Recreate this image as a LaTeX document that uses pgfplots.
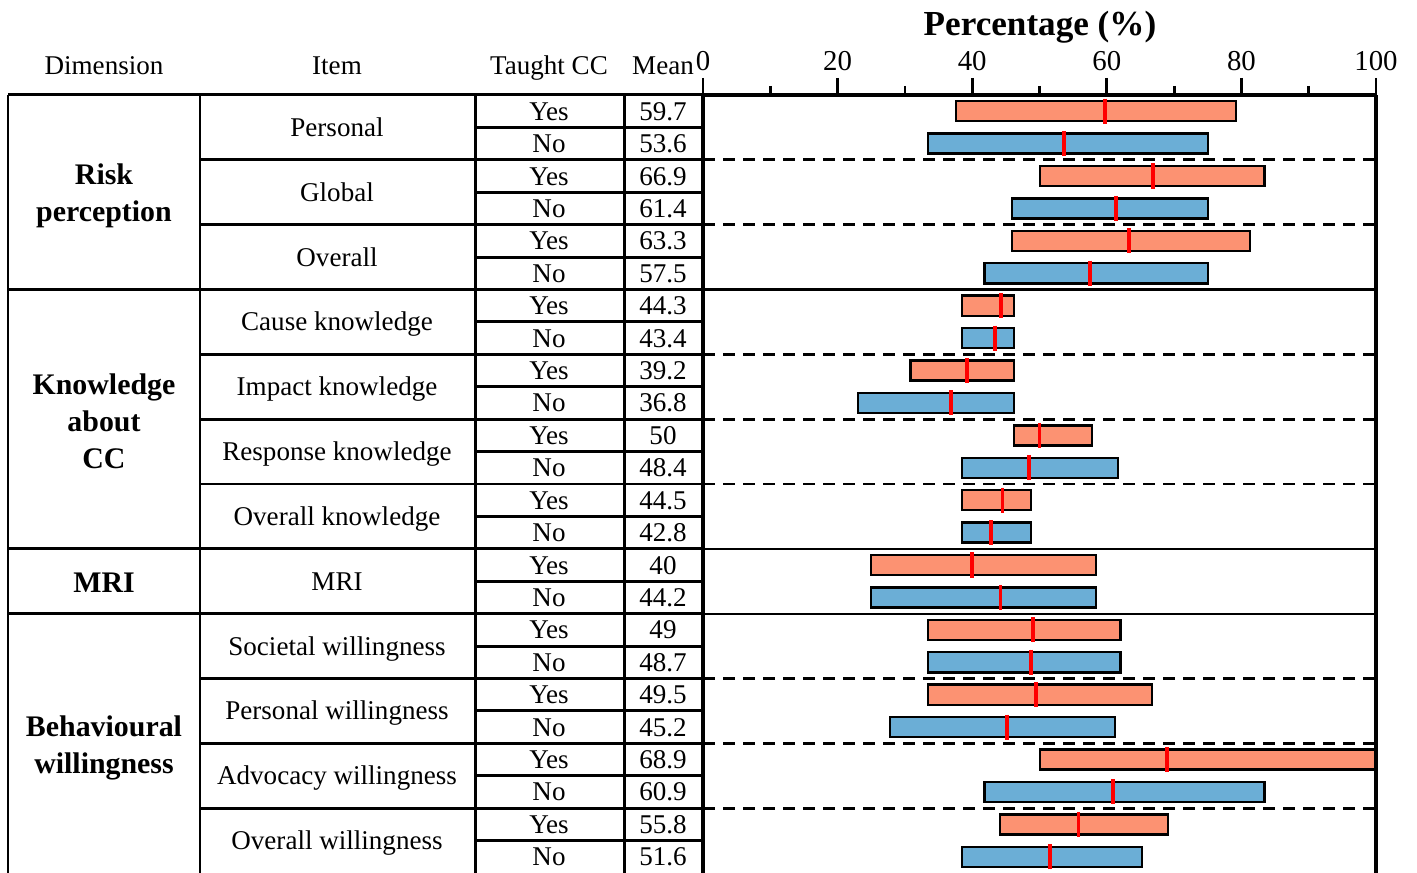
\documentclass[border=0pt]{standalone}
\usepackage{pgfplots}
\pgfplotsset{compat=1.18}
\usepgfplotslibrary{statistics}
\usepackage{fontspec}
\setmainfont{Liberation Serif}
\definecolor{yesc}{HTML}{FC9272}
\definecolor{noc}{HTML}{6BAED6}
\newcommand\bx[5]{\addplot[draw=black, line width=0.7pt, fill=#5, boxplot prepared={draw position=#1, lower whisker=#2, lower quartile=#2, median=#3, upper quartile=#4, upper whisker=#4}] coordinates {};}
\newcommand\tf{\fontsize{7.7}{9}\selectfont}
\begin{document}
\begin{tikzpicture}
\useasboundingbox (0,0) rectangle (141.7mm,-87.3mm);
\begin{axis}[
 at={(70.3mm,-9.5mm)}, anchor=north west,
 scale only axis, width=67.3mm, height=77.8mm,
 xmin=0, xmax=100, ymin=0.5, ymax=24.5, y dir=reverse,
 axis x line*=top, axis y line=none,
 xtick={0,20,...,100}, minor xtick={10,30,...,90},
 tick align=outside, major tick length=1.7mm, minor tick length=0.9mm,
 every tick/.style={black, line width=0.8pt},
 axis line style={line width=0.9pt},
 xticklabel style={font=\fontsize{8.2}{9}\selectfont, yshift=-0.5mm},
 /pgf/number format/assume math mode=true,
 clip=false,
 boxplot/draw direction=x,
 boxplot/box extend=0.62,
 boxplot/whisker extend=0,
 boxplot/every median/.style={red, line width=1.1pt, shorten <=-0.25mm, shorten >=-0.25mm},
]
\pgfplotsinvokeforeach{2.5,4.5,8.5,10.5,12.5,18.5,20.5,22.5}{\draw[line width=0.8pt, dash pattern=on 1.2mm off 0.8mm] (axis cs:0,#1) -- (axis cs:100,#1);}
\pgfplotsinvokeforeach{6.5,14.5,16.5}{\draw[line width=0.6pt] (axis cs:0,#1) -- (axis cs:100,#1);}
\bx{1}{37.6}{59.7}{79.2}{yesc}
\bx{2}{33.4}{53.6}{75.0}{noc}
\bx{3}{50.1}{66.9}{83.4}{yesc}
\bx{4}{45.9}{61.4}{75.0}{noc}
\bx{5}{45.9}{63.3}{81.3}{yesc}
\bx{6}{41.8}{57.5}{75.0}{noc}
\bx{7}{38.5}{44.3}{46.2}{yesc}
\bx{8}{38.5}{43.4}{46.2}{noc}
\bx{9}{30.8}{39.2}{46.2}{yesc}
\bx{10}{23.0}{36.8}{46.2}{noc}
\bx{11}{46.2}{50.0}{57.8}{yesc}
\bx{12}{38.5}{48.4}{61.7}{noc}
\bx{13}{38.5}{44.5}{48.7}{yesc}
\bx{14}{38.5}{42.8}{48.7}{noc}
\bx{15}{25.0}{40.0}{58.4}{yesc}
\bx{16}{25.0}{44.2}{58.4}{noc}
\bx{17}{33.4}{49.0}{62.0}{yesc}
\bx{18}{33.4}{48.7}{62.0}{noc}
\bx{19}{33.4}{49.5}{66.7}{yesc}
\bx{20}{27.8}{45.2}{61.2}{noc}
\bx{21}{50.1}{68.9}{100}{yesc}
\bx{22}{41.8}{60.9}{83.4}{noc}
\bx{23}{44.1}{55.8}{69.1}{yesc}
\bx{24}{38.5}{51.6}{65.2}{noc}
\draw[line width=0.9pt] (axis cs:0,0.5) -- (axis cs:0,24.5);
\draw[line width=0.9pt] (axis cs:100,0.5) -- (axis cs:100,24.5);
\end{axis}
\begin{scope}[x=0.1mm,y=-0.1mm, line width=0.85pt, every node/.style={font=\tf, inner sep=0pt}]
\draw (8,95) -- (703,95);
\foreach \x in {8,200,475,624} \draw (\x,95) -- (\x,873);
\foreach \k in {1,...,23} \draw (475,{95+\k*32.417}) -- (703,{95+\k*32.417});
\foreach \k in {2,4,...,22} \draw (200,{95+\k*32.417}) -- (475,{95+\k*32.417});
\foreach \k in {6,14,16} \draw (8,{95+\k*32.417}) -- (200,{95+\k*32.417});
\node[anchor=base] at (104,75) {Dimension};
\node[anchor=base] at (337,75) {Item};
\node[anchor=base] at (549,75) {Taught CC};
\node[anchor=base] at (663,75) {Mean};
\node[font=\bfseries\fontsize{10}{12}\selectfont] at (1040,27) {Percentage (\%)};
\foreach \i in {1,3,...,23} \node[anchor=base] at (549,{95+(\i-0.5)*32.417+9}) {Yes};
\foreach \i in {2,4,...,24} \node[anchor=base] at (549,{95+(\i-0.5)*32.417+9}) {No};
\foreach \m [count=\i] in {59.7,53.6,66.9,61.4,63.3,57.5,44.3,43.4,39.2,36.8,50,48.4,44.5,42.8,40,44.2,49,48.7,49.5,45.2,68.9,60.9,55.8,51.6}
  \node[anchor=base] at (663,{95+(\i-0.5)*32.417+9}) {\m};
\foreach \t [count=\j] in {Personal,Global,Overall,Cause knowledge,Impact knowledge,Response knowledge,Overall knowledge,MRI,Societal willingness,Personal willingness,Advocacy willingness,Overall willingness}
  \node[anchor=base] at (337,{95+(2*\j-1)*32.417+9}) {\t};
\begin{scope}[every node/.style={font=\bfseries\fontsize{8.5}{10.5}\selectfont, align=center, inner sep=0pt}]
\node at (104,196) {Risk\\perception};
\node at (104,421) {Knowledge\\about\\CC};
\node at (104,583) {MRI};
\node at (104,748) {Behavioural\\willingness};
\end{scope}
\end{scope}
\end{tikzpicture}
\end{document}
